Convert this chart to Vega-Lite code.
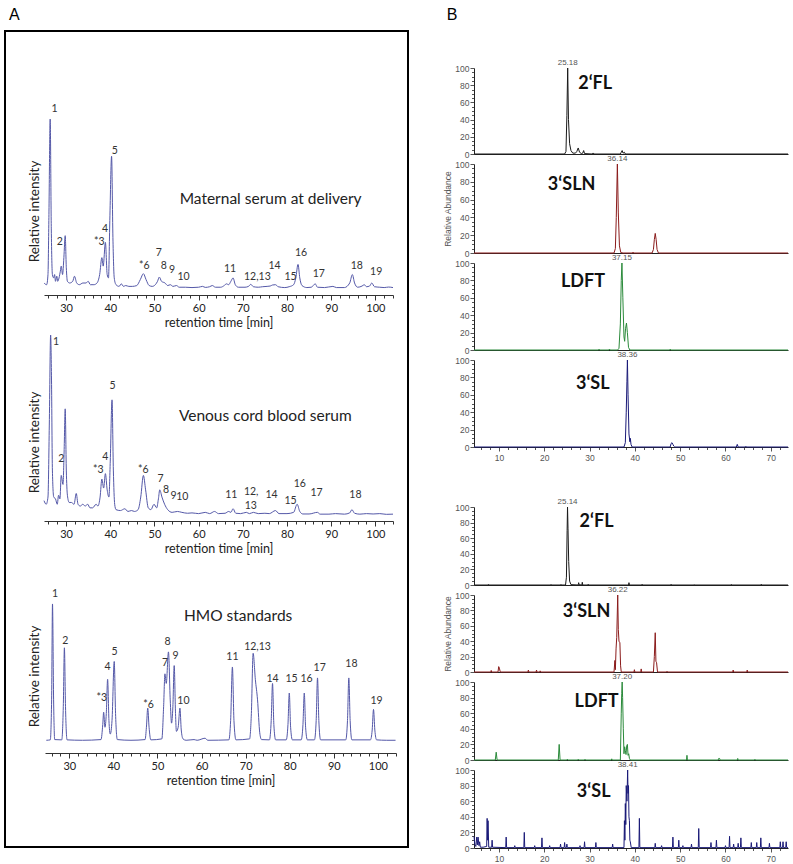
{
  "$schema": "https://vega.github.io/schema/vega-lite/v6.json",
  "background": "white",
  "padding": {"left": 4, "top": 6, "right": 0, "bottom": 0},
  "config": {"view": {"stroke": null}, "font": "Lato", "axis": {"grid": false, "labelOverlap": false, "format": "d"}},
  "datasets": {
    "a1": [{"t":25.0,"v":3},{"t":25.6,"v":2},{"t":25.9,"v":8},{"t":26.1,"v":40},{"t":26.4,"v":100},{"t":26.65,"v":35},{"t":26.9,"v":8},{"t":27.2,"v":6},{"t":27.4,"v":8},{"t":27.6,"v":4},{"t":27.9,"v":7},{"t":28.1,"v":4},{"t":28.4,"v":6},{"t":28.7,"v":10},{"t":28.9,"v":13},{"t":29.2,"v":8},{"t":29.5,"v":18},{"t":29.8,"v":31},{"t":30.05,"v":12},{"t":30.3,"v":4},{"t":30.8,"v":3},{"t":31.5,"v":4},{"t":31.9,"v":7},{"t":32.4,"v":3},{"t":33.0,"v":2},{"t":33.8,"v":3},{"t":34.5,"v":3},{"t":35.0,"v":4},{"t":35.5,"v":2},{"t":36.3,"v":2},{"t":37.0,"v":3},{"t":37.6,"v":8},{"t":38.1,"v":18},{"t":38.4,"v":13},{"t":38.9,"v":27},{"t":39.3,"v":8},{"t":39.6,"v":6},{"t":39.9,"v":40},{"t":40.3,"v":78},{"t":40.6,"v":30},{"t":40.9,"v":6},{"t":41.3,"v":2},{"t":42.0,"v":1},{"t":42.5,"v":2.5},{"t":43.0,"v":1},{"t":43.5,"v":1.5},{"t":44.2,"v":1},{"t":45.0,"v":1},{"t":46.0,"v":1.5},{"t":46.8,"v":5},{"t":47.5,"v":8.5},{"t":48.1,"v":5},{"t":48.8,"v":1.5},{"t":49.5,"v":1},{"t":50.2,"v":2},{"t":50.7,"v":4},{"t":51.1,"v":6.5},{"t":51.6,"v":4},{"t":52.4,"v":3},{"t":53.0,"v":1.5},{"t":53.6,"v":2},{"t":54.2,"v":1},{"t":55.0,"v":1.5},{"t":55.6,"v":0.5},{"t":57,"v":0.5},{"t":58.5,"v":0.3},{"t":60,"v":0.5},{"t":60.9,"v":1},{"t":61.5,"v":0.4},{"t":62.5,"v":0.8},{"t":63.1,"v":1.5},{"t":63.8,"v":0.5},{"t":65,"v":0.5},{"t":65.8,"v":1.5},{"t":66.3,"v":2.5},{"t":66.8,"v":2},{"t":67.3,"v":4},{"t":67.8,"v":6},{"t":68.3,"v":2},{"t":69,"v":0.5},{"t":70.5,"v":0.5},{"t":71.3,"v":1},{"t":71.8,"v":2.2},{"t":72.4,"v":0.8},{"t":73.5,"v":0.5},{"t":74.5,"v":0.8},{"t":75.5,"v":1},{"t":76.2,"v":1.2},{"t":76.7,"v":1.8},{"t":77.4,"v":2},{"t":78.0,"v":0.8},{"t":79.5,"v":0.3},{"t":80.5,"v":0.8},{"t":81.5,"v":2},{"t":82.0,"v":6},{"t":82.5,"v":14},{"t":82.9,"v":6},{"t":83.4,"v":1.5},{"t":84.5,"v":0.3},{"t":85.5,"v":0.5},{"t":86.4,"v":2.5},{"t":86.9,"v":0.5},{"t":88.5,"v":0.3},{"t":90.4,"v":1},{"t":91.2,"v":0.3},{"t":93,"v":0.3},{"t":94.2,"v":3},{"t":94.8,"v":8},{"t":95.3,"v":3},{"t":96,"v":0.5},{"t":97,"v":1.2},{"t":97.5,"v":2},{"t":98,"v":0.8},{"t":98.7,"v":1.2},{"t":99.2,"v":3},{"t":99.8,"v":0.8},{"t":101,"v":0.5},{"t":102,"v":0.3},{"t":103,"v":0.6},{"t":104,"v":0.3}],
    "a2": [{"t":25.0,"v":8},{"t":25.5,"v":6},{"t":25.9,"v":10},{"t":26.2,"v":50},{"t":26.5,"v":100},{"t":26.7,"v":75},{"t":26.9,"v":25},{"t":27.2,"v":10},{"t":27.6,"v":9},{"t":28.0,"v":6},{"t":28.3,"v":11},{"t":28.6,"v":9},{"t":28.9,"v":22},{"t":29.3,"v":17},{"t":29.55,"v":35},{"t":29.8,"v":59},{"t":30.05,"v":25},{"t":30.3,"v":11},{"t":30.7,"v":7},{"t":31.2,"v":7},{"t":31.8,"v":6},{"t":32.3,"v":12},{"t":32.7,"v":6},{"t":33.2,"v":5},{"t":33.8,"v":6},{"t":34.3,"v":5},{"t":34.9,"v":6},{"t":35.4,"v":4},{"t":36.0,"v":4},{"t":36.8,"v":6},{"t":37.2,"v":5},{"t":37.7,"v":10},{"t":38.1,"v":20},{"t":38.5,"v":15},{"t":38.9,"v":23},{"t":39.3,"v":14},{"t":39.7,"v":10},{"t":40.0,"v":30},{"t":40.4,"v":64},{"t":40.7,"v":25},{"t":41.0,"v":6},{"t":41.3,"v":3},{"t":42.3,"v":2.5},{"t":43.3,"v":3.5},{"t":44.0,"v":2},{"t":44.8,"v":2.5},{"t":45.5,"v":2},{"t":46.3,"v":3},{"t":46.9,"v":10},{"t":47.5,"v":22},{"t":48.0,"v":14},{"t":48.6,"v":4},{"t":49.2,"v":3},{"t":49.9,"v":6},{"t":50.5,"v":4},{"t":50.9,"v":9},{"t":51.2,"v":14},{"t":51.7,"v":10},{"t":52.3,"v":6},{"t":53.0,"v":3},{"t":54.0,"v":1.5},{"t":55.2,"v":2},{"t":56.2,"v":1.5},{"t":57.5,"v":1},{"t":58.5,"v":1.2},{"t":60,"v":0.8},{"t":61.5,"v":1.5},{"t":62.5,"v":0.8},{"t":63.6,"v":2},{"t":64.5,"v":0.8},{"t":66.0,"v":1},{"t":66.8,"v":2},{"t":67.3,"v":1.5},{"t":67.8,"v":3.5},{"t":68.4,"v":1},{"t":69.5,"v":0.8},{"t":70.8,"v":1.5},{"t":71.5,"v":0.8},{"t":72.4,"v":1.5},{"t":73.5,"v":0.8},{"t":75.0,"v":1},{"t":76.0,"v":0.8},{"t":77.4,"v":2.5},{"t":78.2,"v":0.8},{"t":80.0,"v":0.8},{"t":81.5,"v":1.5},{"t":82.3,"v":6},{"t":82.9,"v":2},{"t":83.6,"v":0.6},{"t":85,"v":0.6},{"t":86.9,"v":1.5},{"t":87.5,"v":0.5},{"t":89.5,"v":0.5},{"t":91,"v":0.8},{"t":93,"v":0.5},{"t":94.2,"v":1.2},{"t":94.7,"v":3},{"t":95.3,"v":1},{"t":96.5,"v":0.5},{"t":98,"v":0.8},{"t":99.5,"v":0.6},{"t":101,"v":0.8},{"t":102.5,"v":0.4},{"t":104,"v":0.5}],
    "a3": [{"t":24.8,"v":0.5},{"t":25.7,"v":0.8},{"t":26.0,"v":30},{"t":26.2,"v":100},{"t":26.45,"v":30},{"t":26.7,"v":1},{"t":28.3,"v":0.8},{"t":28.65,"v":25},{"t":28.9,"v":68},{"t":29.15,"v":25},{"t":29.5,"v":0.8},{"t":33,"v":0.5},{"t":37.2,"v":1},{"t":37.6,"v":12},{"t":37.8,"v":21},{"t":38.1,"v":10},{"t":38.4,"v":20},{"t":38.7,"v":45},{"t":39.0,"v":15},{"t":39.3,"v":5},{"t":39.7,"v":15},{"t":40.2,"v":58},{"t":40.5,"v":20},{"t":40.9,"v":1},{"t":44,"v":0.5},{"t":47.2,"v":1},{"t":47.5,"v":10},{"t":47.8,"v":24},{"t":48.1,"v":10},{"t":48.5,"v":0.8},{"t":51.0,"v":1.5},{"t":51.4,"v":25},{"t":51.7,"v":49},{"t":52.0,"v":42},{"t":52.5,"v":65},{"t":52.9,"v":30},{"t":53.2,"v":13},{"t":53.5,"v":25},{"t":53.8,"v":55},{"t":54.1,"v":20},{"t":54.3,"v":7},{"t":54.7,"v":10},{"t":55.1,"v":24},{"t":55.4,"v":8},{"t":55.8,"v":1.5},{"t":56.5,"v":0.5},{"t":58.3,"v":1},{"t":59,"v":0.5},{"t":60.8,"v":2},{"t":61.4,"v":0.5},{"t":66.2,"v":0.8},{"t":66.6,"v":15},{"t":67.0,"v":54},{"t":67.35,"v":15},{"t":67.8,"v":0.8},{"t":70.9,"v":1.5},{"t":71.3,"v":20},{"t":71.7,"v":64},{"t":72.2,"v":45},{"t":72.7,"v":30},{"t":73.2,"v":6},{"t":73.6,"v":1},{"t":75.4,"v":0.8},{"t":75.8,"v":15},{"t":76.1,"v":42},{"t":76.4,"v":12},{"t":76.8,"v":0.8},{"t":79.2,"v":0.8},{"t":79.6,"v":12},{"t":79.9,"v":35},{"t":80.2,"v":10},{"t":80.6,"v":0.8},{"t":82.6,"v":0.8},{"t":83.0,"v":12},{"t":83.3,"v":35},{"t":83.6,"v":10},{"t":84.0,"v":0.8},{"t":85.6,"v":0.8},{"t":86.0,"v":15},{"t":86.3,"v":46},{"t":86.6,"v":15},{"t":87.0,"v":0.8},{"t":92.7,"v":0.8},{"t":93.1,"v":15},{"t":93.4,"v":46},{"t":93.7,"v":15},{"t":94.1,"v":0.8},{"t":98.3,"v":0.8},{"t":98.7,"v":8},{"t":99.0,"v":23},{"t":99.3,"v":8},{"t":99.7,"v":0.8},{"t":102,"v":0.5},{"t":104,"v":0.5}],
    "a1l": [{"t":27.4,"v":106,"label":"1"},{"t":28.6,"v":27,"label":"2"},{"t":37.5,"v":27,"label":"*3"},{"t":38.8,"v":35,"label":"4"},{"t":41.0,"v":81,"label":"5"},{"t":47.7,"v":13,"label":"*6"},{"t":51.0,"v":21,"label":"7"},{"t":52.1,"v":13,"label":"8"},{"t":54.0,"v":10.5,"label":"9"},{"t":56.6,"v":6.3,"label":"10"},{"t":67.1,"v":11,"label":"11"},{"t":73.3,"v":6.5,"label":"12,13"},{"t":77.2,"v":13,"label":"14"},{"t":80.8,"v":6.5,"label":"15"},{"t":83.2,"v":21,"label":"16"},{"t":87.2,"v":8.5,"label":"17"},{"t":95.8,"v":13,"label":"18"},{"t":100.2,"v":9.5,"label":"19"}],
    "a2l": [{"t":27.7,"v":96,"label":"1"},{"t":28.9,"v":31,"label":"2"},{"t":37.3,"v":25,"label":"*3"},{"t":38.9,"v":32,"label":"4"},{"t":40.5,"v":71.5,"label":"5"},{"t":47.5,"v":25,"label":"*6"},{"t":51.4,"v":20,"label":"7"},{"t":52.6,"v":14,"label":"8"},{"t":54.3,"v":10.5,"label":"9"},{"t":56.3,"v":10,"label":"10"},{"t":67.4,"v":11,"label":"11"},{"t":71.9,"v":13,"label":"12,"},{"t":71.8,"v":5,"label":"13"},{"t":76.5,"v":11,"label":"14"},{"t":80.8,"v":8,"label":"15"},{"t":82.9,"v":17,"label":"16"},{"t":86.7,"v":12,"label":"17"},{"t":95.5,"v":11,"label":"18"}],
    "a3l": [{"t":26.8,"v":107.5,"label":"1"},{"t":29.1,"v":73,"label":"2"},{"t":37.4,"v":31,"label":"*3"},{"t":38.7,"v":54,"label":"4"},{"t":40.3,"v":65,"label":"5"},{"t":48.0,"v":26.5,"label":"*6"},{"t":51.7,"v":57,"label":"7"},{"t":52.3,"v":72,"label":"8"},{"t":54.1,"v":62,"label":"9"},{"t":55.9,"v":29,"label":"10"},{"t":67.0,"v":61,"label":"11"},{"t":72.7,"v":68.6,"label":"12,13"},{"t":76.1,"v":45.5,"label":"14"},{"t":80.4,"v":45,"label":"15"},{"t":83.8,"v":45,"label":"16"},{"t":86.8,"v":53,"label":"17"},{"t":94.0,"v":56,"label":"18"},{"t":99.7,"v":29,"label":"19"}],
    "b1": [{"t":4.5,"v":0},{"t":24.5,"v":0},{"t":24.8,"v":3},{"t":25.0,"v":45},{"t":25.18,"v":100},{"t":25.35,"v":40},{"t":25.6,"v":12},{"t":25.9,"v":4},{"t":26.3,"v":1},{"t":26.9,"v":1},{"t":27.2,"v":3},{"t":27.5,"v":7},{"t":27.8,"v":2},{"t":28.2,"v":0.5},{"t":28.5,"v":1},{"t":28.7,"v":4},{"t":28.9,"v":0.5},{"t":30.6,"v":0},{"t":30.8,"v":1.2},{"t":31.0,"v":0},{"t":36.8,"v":0},{"t":37.0,"v":2},{"t":37.2,"v":4},{"t":37.4,"v":1},{"t":37.7,"v":2},{"t":37.9,"v":0},{"t":73.8,"v":0}],
    "b2": [{"t":4.5,"v":0},{"t":35.4,"v":0},{"t":35.7,"v":5},{"t":35.9,"v":40},{"t":36.14,"v":100},{"t":36.35,"v":45},{"t":36.6,"v":8},{"t":36.9,"v":0.5},{"t":37.4,"v":0},{"t":39.5,"v":0},{"t":39.6,"v":1},{"t":39.7,"v":0},{"t":43.8,"v":0},{"t":44.1,"v":4},{"t":44.3,"v":15},{"t":44.5,"v":22},{"t":44.7,"v":15},{"t":44.9,"v":4},{"t":45.2,"v":0},{"t":73.8,"v":0}],
    "b3": [{"t":4.5,"v":0},{"t":32.0,"v":0},{"t":32.1,"v":1},{"t":32.2,"v":0},{"t":34.3,"v":0},{"t":34.4,"v":1},{"t":34.5,"v":0},{"t":36.2,"v":0},{"t":36.5,"v":2},{"t":36.8,"v":30},{"t":37.0,"v":80},{"t":37.15,"v":100},{"t":37.35,"v":60},{"t":37.6,"v":15},{"t":37.75,"v":10},{"t":37.95,"v":25},{"t":38.15,"v":31},{"t":38.35,"v":20},{"t":38.6,"v":3},{"t":38.9,"v":0},{"t":47.7,"v":0},{"t":47.8,"v":1},{"t":47.9,"v":0},{"t":73.8,"v":0}],
    "b4": [{"t":4.5,"v":0},{"t":37.6,"v":0},{"t":37.9,"v":5},{"t":38.1,"v":40},{"t":38.25,"v":75},{"t":38.36,"v":100},{"t":38.5,"v":60},{"t":38.7,"v":15},{"t":38.9,"v":6},{"t":39.0,"v":10},{"t":39.15,"v":3},{"t":39.4,"v":0},{"t":47.8,"v":0},{"t":48.0,"v":4},{"t":48.2,"v":5},{"t":48.4,"v":3},{"t":48.6,"v":1},{"t":48.8,"v":0},{"t":62.4,"v":0},{"t":62.6,"v":3},{"t":62.8,"v":0},{"t":64.4,"v":0},{"t":64.5,"v":0.8},{"t":64.6,"v":0},{"t":73.8,"v":0}],
    "b5": [{"t":4.5,"v":0},{"t":7.6,"v":0},{"t":7.7,"v":0.8},{"t":7.8,"v":0},{"t":21.4,"v":0},{"t":21.5,"v":0.8},{"t":21.6,"v":0},{"t":23.6,"v":0},{"t":23.7,"v":0.8},{"t":23.8,"v":0},{"t":24.7,"v":0},{"t":24.9,"v":10},{"t":25.05,"v":70},{"t":25.14,"v":100},{"t":25.25,"v":72},{"t":25.4,"v":30},{"t":25.6,"v":5},{"t":25.9,"v":0.5},{"t":27.5,"v":0},{"t":27.6,"v":3},{"t":27.7,"v":0.5},{"t":28.3,"v":0},{"t":28.4,"v":3.5},{"t":28.5,"v":0},{"t":29.6,"v":0},{"t":29.7,"v":1},{"t":29.8,"v":0},{"t":38.6,"v":0},{"t":38.7,"v":3},{"t":38.8,"v":0},{"t":41.5,"v":0},{"t":41.6,"v":1},{"t":41.7,"v":0},{"t":47.9,"v":0},{"t":48.0,"v":1},{"t":48.1,"v":0},{"t":53,"v":0},{"t":53.1,"v":0.6},{"t":53.2,"v":0},{"t":61.2,"v":0},{"t":61.3,"v":0.8},{"t":61.4,"v":0},{"t":67.8,"v":0},{"t":67.9,"v":1},{"t":68.0,"v":0},{"t":73.8,"v":0}],
    "b6": [{"t":4.5,"v":0},{"t":8.2,"v":0},{"t":8.3,"v":2},{"t":8.4,"v":0},{"t":9.8,"v":0},{"t":9.95,"v":7},{"t":10.1,"v":5},{"t":10.3,"v":0},{"t":16.4,"v":0},{"t":16.5,"v":2.5},{"t":16.6,"v":0},{"t":18.2,"v":0},{"t":18.3,"v":2.5},{"t":18.4,"v":0},{"t":19.0,"v":0},{"t":19.1,"v":1.5},{"t":19.2,"v":0},{"t":35.4,"v":0},{"t":35.6,"v":15},{"t":35.7,"v":3},{"t":35.85,"v":30},{"t":36.0,"v":45},{"t":36.22,"v":100},{"t":36.35,"v":55},{"t":36.5,"v":40},{"t":36.7,"v":38},{"t":36.85,"v":8},{"t":37.0,"v":0},{"t":39.8,"v":0},{"t":39.9,"v":3},{"t":40.0,"v":0},{"t":41.3,"v":0},{"t":41.4,"v":4},{"t":41.5,"v":0},{"t":44.1,"v":0},{"t":44.3,"v":20},{"t":44.5,"v":51},{"t":44.65,"v":14},{"t":44.8,"v":12},{"t":45.0,"v":0},{"t":47.0,"v":0},{"t":47.1,"v":1},{"t":47.2,"v":0},{"t":61.6,"v":0},{"t":61.7,"v":2.5},{"t":61.8,"v":0},{"t":64.7,"v":0},{"t":64.8,"v":2.5},{"t":64.9,"v":0},{"t":73.8,"v":0}],
    "b7": [{"t":4.5,"v":0},{"t":9.2,"v":0},{"t":9.4,"v":10},{"t":9.6,"v":0},{"t":23.1,"v":0},{"t":23.3,"v":20},{"t":23.5,"v":0},{"t":25.0,"v":0},{"t":25.1,"v":1},{"t":25.2,"v":0},{"t":27.4,"v":0},{"t":27.5,"v":1},{"t":27.6,"v":0},{"t":28.9,"v":0},{"t":29.0,"v":1},{"t":29.1,"v":0},{"t":34.8,"v":0},{"t":34.9,"v":1.5},{"t":35.0,"v":0},{"t":36.8,"v":0},{"t":37.0,"v":60},{"t":37.1,"v":85},{"t":37.2,"v":100},{"t":37.3,"v":80},{"t":37.45,"v":40},{"t":37.6,"v":8},{"t":37.75,"v":17},{"t":37.9,"v":12},{"t":38.05,"v":7},{"t":38.2,"v":18},{"t":38.35,"v":20},{"t":38.5,"v":6},{"t":38.65,"v":8},{"t":38.8,"v":2},{"t":39.0,"v":0},{"t":51.4,"v":0},{"t":51.5,"v":6},{"t":51.6,"v":0},{"t":58.4,"v":0},{"t":58.5,"v":2},{"t":58.7,"v":2},{"t":58.8,"v":0},{"t":62.6,"v":0},{"t":62.7,"v":2},{"t":62.8,"v":0},{"t":66.4,"v":0},{"t":66.5,"v":1},{"t":66.6,"v":0},{"t":73.8,"v":0}],
    "b8": [{"t":4.5,"v":15},{"t":4.7,"v":4},{"t":4.9,"v":2},{"t":5.1,"v":14},{"t":5.25,"v":4},{"t":5.4,"v":14},{"t":5.6,"v":3},{"t":5.75,"v":8},{"t":5.9,"v":1},{"t":6.5,"v":1},{"t":7.3,"v":2},{"t":7.4,"v":38},{"t":7.5,"v":10},{"t":7.6,"v":35},{"t":7.75,"v":1},{"t":8.4,"v":1},{"t":8.5,"v":10},{"t":8.6,"v":1},{"t":11.5,"v":0.5},{"t":11.6,"v":14},{"t":11.7,"v":0.5},{"t":13.4,"v":0.5},{"t":13.5,"v":3},{"t":13.6,"v":0.5},{"t":15.5,"v":0.5},{"t":15.6,"v":20},{"t":15.7,"v":0.5},{"t":17.8,"v":0.5},{"t":17.9,"v":3},{"t":18.0,"v":0.5},{"t":19.4,"v":0.5},{"t":19.5,"v":13},{"t":19.6,"v":0.5},{"t":21.1,"v":0.5},{"t":21.2,"v":3},{"t":21.3,"v":0.5},{"t":23.5,"v":0.5},{"t":23.6,"v":5},{"t":23.7,"v":0.5},{"t":24.4,"v":0.5},{"t":24.5,"v":7},{"t":24.6,"v":0.5},{"t":24.9,"v":0.5},{"t":25.0,"v":5},{"t":25.1,"v":0.5},{"t":27.8,"v":0.5},{"t":27.9,"v":3},{"t":28.0,"v":0.5},{"t":28.8,"v":0.5},{"t":28.9,"v":8},{"t":29.0,"v":0.5},{"t":31.3,"v":0.5},{"t":31.4,"v":7},{"t":31.5,"v":0.5},{"t":35.0,"v":0.5},{"t":35.1,"v":5},{"t":35.2,"v":0.5},{"t":37.6,"v":0.5},{"t":37.7,"v":35},{"t":37.8,"v":10},{"t":37.9,"v":57},{"t":38.0,"v":30},{"t":38.1,"v":80},{"t":38.25,"v":60},{"t":38.41,"v":100},{"t":38.5,"v":70},{"t":38.6,"v":80},{"t":38.7,"v":40},{"t":38.8,"v":35},{"t":38.9,"v":10},{"t":39.0,"v":8},{"t":39.2,"v":0.5},{"t":40.9,"v":0.5},{"t":41.0,"v":38},{"t":41.1,"v":0.5},{"t":44.4,"v":0.5},{"t":44.5,"v":6},{"t":44.6,"v":0.5},{"t":45.8,"v":0.5},{"t":45.9,"v":3},{"t":46.0,"v":0.5},{"t":48.3,"v":0.5},{"t":48.4,"v":14},{"t":48.5,"v":0.5},{"t":49.6,"v":0.5},{"t":49.7,"v":10},{"t":49.8,"v":0.5},{"t":50.5,"v":0.5},{"t":50.6,"v":3},{"t":50.7,"v":0.5},{"t":52.4,"v":0.5},{"t":52.5,"v":5},{"t":52.6,"v":0.5},{"t":54.0,"v":0.5},{"t":54.1,"v":25},{"t":54.2,"v":0.5},{"t":56.7,"v":0.5},{"t":56.8,"v":7},{"t":56.9,"v":0.5},{"t":57.9,"v":0.5},{"t":58.0,"v":10},{"t":58.1,"v":0.5},{"t":59.9,"v":0.5},{"t":60.0,"v":3},{"t":60.1,"v":0.5},{"t":60.8,"v":0.5},{"t":60.9,"v":15},{"t":61.0,"v":0.5},{"t":61.7,"v":0.5},{"t":61.8,"v":5},{"t":61.9,"v":0.5},{"t":62.7,"v":0.5},{"t":62.8,"v":6},{"t":62.9,"v":0.5},{"t":63.3,"v":0.5},{"t":63.4,"v":13},{"t":63.5,"v":0.5},{"t":65.6,"v":0.5},{"t":65.7,"v":7},{"t":65.8,"v":0.5},{"t":66.8,"v":0.5},{"t":66.9,"v":7},{"t":67.0,"v":0.5},{"t":67.7,"v":0.5},{"t":67.8,"v":13},{"t":67.9,"v":0.5},{"t":69.6,"v":0.5},{"t":69.7,"v":6},{"t":69.8,"v":0.5},{"t":72.0,"v":0.5},{"t":72.1,"v":8},{"t":72.2,"v":0.5},{"t":72.6,"v":0.5},{"t":72.7,"v":8},{"t":72.8,"v":0.5},{"t":73.3,"v":0.5},{"t":73.4,"v":8},{"t":73.5,"v":0.5},{"t":73.8,"v":0.5}]
  },
  "spacing": 34,
  "hconcat": [
    {
      "width": 403,
      "height": 816,
      "view": {"stroke": "#000000", "strokeWidth": 2},
      "title": {"text": "A", "anchor": "start", "fontSize": 16, "fontWeight": "normal", "font": "Liberation Sans", "offset": 8, "dx": 4},
      "resolve": {"scale": {"x": "independent", "y": "independent"}, "axis": {"x": "independent", "y": "independent"}},
      "layer": [
        {
          "layer": [
            {"data": {"name": "a1"}, "mark": {"type": "line", "interpolate": "monotone", "color": "#5458a8", "strokeWidth": 1},
             "encoding": {
               "x": {"field": "t", "type": "quantitative", "scale": {"domain": [25, 104], "range": [39, 388], "nice": false, "zero": false},
                     "axis": {"orient": "bottom", "offset": -552, "values": [26,28,30,32,34,36,38,40,42,44,46,48,50,52,54,56,58,60,62,64,66,68,70,72,74,76,78,80,82,84,86,88,90,92,94,96,98,100,102,104], "tickCount": 500, "format": "d", "labelExpr": "datum.value % 10 === 0 ? datum.label : ''", "labelOverlap": false, "tickSize": {"condition": {"test": "datum.value % 10 === 0", "value": 5}, "value": 3}, "title": "retention time [min]", "titleFontSize": 12.5, "titleFontWeight": "normal", "titleColor": "#222", "titlePadding": 3, "labelFontSize": 11, "labelColor": "#222", "labelPadding": 2, "domainColor": "#333", "tickColor": "#333", "labelFlush": false}},
               "y": {"field": "v", "type": "quantitative", "scale": {"domain": [-330.7, 152.1], "nice": false, "zero": false},
                     "axis": {"orient": "left", "domain": false, "ticks": false, "labels": false, "title": "Relative intensity", "titleX": 29, "titleY": 180, "titleAngle": -90, "titleAlign": "center", "titleBaseline": "middle", "titleFontSize": 13.5, "titleFontWeight": "normal", "titleColor": "#222"}}
             }},
            {"data": {"name": "a1l"}, "mark": {"type": "text", "fontSize": 10.5, "color": "#333"},
             "encoding": {"x": {"field": "t", "type": "quantitative"}, "y": {"field": "v", "type": "quantitative"}, "text": {"field": "label"}}},
            {"data": {"values": [{"t": 76.3, "v": 52.5, "label": "Maternal serum at delivery"}]}, "mark": {"type": "text", "fontSize": 15.5, "color": "#222"},
             "encoding": {"x": {"field": "t", "type": "quantitative"}, "y": {"field": "v", "type": "quantitative"}, "text": {"field": "label"}}}
          ]
        },
        {
          "layer": [
            {"data": {"name": "a2"}, "mark": {"type": "line", "interpolate": "monotone", "color": "#5458a8", "strokeWidth": 1},
             "encoding": {
               "x": {"field": "t", "type": "quantitative", "scale": {"domain": [25, 104], "range": [39, 388], "nice": false, "zero": false},
                     "axis": {"orient": "bottom", "offset": -326, "values": [26,28,30,32,34,36,38,40,42,44,46,48,50,52,54,56,58,60,62,64,66,68,70,72,74,76,78,80,82,84,86,88,90,92,94,96,98,100,102,104], "tickCount": 500, "format": "d", "labelExpr": "datum.value % 10 === 0 ? datum.label : ''", "labelOverlap": false, "tickSize": {"condition": {"test": "datum.value % 10 === 0", "value": 5}, "value": 3}, "title": "retention time [min]", "titleFontSize": 12.5, "titleFontWeight": "normal", "titleColor": "#222", "titlePadding": 3, "labelFontSize": 11, "labelColor": "#222", "labelPadding": 2, "domainColor": "#333", "tickColor": "#333", "labelFlush": false}},
               "y": {"field": "v", "type": "quantitative", "scale": {"domain": [-184.4, 268.9], "nice": false, "zero": false},
                     "axis": {"orient": "left", "domain": false, "ticks": false, "labels": false, "title": "Relative intensity", "titleX": 29, "titleY": 411, "titleAngle": -90, "titleAlign": "center", "titleBaseline": "middle", "titleFontSize": 13.5, "titleFontWeight": "normal", "titleColor": "#222"}}
             }},
            {"data": {"name": "a2l"}, "mark": {"type": "text", "fontSize": 10.5, "color": "#333"},
             "encoding": {"x": {"field": "t", "type": "quantitative"}, "y": {"field": "v", "type": "quantitative"}, "text": {"field": "label"}}},
            {"data": {"values": [{"t": 75.1, "v": 55, "label": "Venous cord blood serum"}]}, "mark": {"type": "text", "fontSize": 15.5, "color": "#222"},
             "encoding": {"x": {"field": "t", "type": "quantitative"}, "y": {"field": "v", "type": "quantitative"}, "text": {"field": "label"}}}
          ]
        },
        {
          "layer": [
            {"data": {"name": "a3"}, "mark": {"type": "line", "interpolate": "monotone", "color": "#5458a8", "strokeWidth": 1},
             "encoding": {
               "x": {"field": "t", "type": "quantitative", "scale": {"domain": [24.5, 104.1], "range": [40, 391], "nice": false, "zero": false},
                     "axis": {"orient": "bottom", "offset": -94, "values": [26,28,30,32,34,36,38,40,42,44,46,48,50,52,54,56,58,60,62,64,66,68,70,72,74,76,78,80,82,84,86,88,90,92,94,96,98,100,102,104], "tickCount": 500, "format": "d", "labelExpr": "datum.value % 10 === 0 ? datum.label : ''", "labelOverlap": false, "tickSize": {"condition": {"test": "datum.value % 10 === 0", "value": 5}, "value": 3}, "title": "retention time [min]", "titleFontSize": 12.5, "titleFontWeight": "normal", "titleColor": "#222", "titlePadding": 3, "labelFontSize": 11, "labelColor": "#222", "labelPadding": 2, "domainColor": "#333", "tickColor": "#333", "labelFlush": false}},
               "y": {"field": "v", "type": "quantitative", "scale": {"domain": [-77.4, 518.2], "nice": false, "zero": false},
                     "axis": {"orient": "left", "domain": false, "ticks": false, "labels": false, "title": "Relative intensity", "titleX": 29, "titleY": 645, "titleAngle": -90, "titleAlign": "center", "titleBaseline": "middle", "titleFontSize": 13.5, "titleFontWeight": "normal", "titleColor": "#222"}}
             }},
            {"data": {"name": "a3l"}, "mark": {"type": "text", "fontSize": 10.5, "color": "#333"},
             "encoding": {"x": {"field": "t", "type": "quantitative"}, "y": {"field": "v", "type": "quantitative"}, "text": {"field": "label"}}},
            {"data": {"values": [{"t": 68.3, "v": 91, "label": "HMO standards"}]}, "mark": {"type": "text", "fontSize": 15.5, "color": "#222"},
             "encoding": {"x": {"field": "t", "type": "quantitative"}, "y": {"field": "v", "type": "quantitative"}, "text": {"field": "label"}}}
          ]
        }
      ]
    },
    {
      "title": {"text": "B", "anchor": "start", "fontSize": 16, "fontWeight": "normal", "font": "Liberation Sans", "offset": 8, "dx": 3},
      "bounds": "flush",
      "spacing": 10,
      "vconcat": [
        {"width": 314, "height": 27, "data": {"values": []}, "mark": "point", "encoding": {}},
        {"width": 314, "height": 86, "layer": [
          {"data": {"name": "b1"}, "mark": {"type": "line", "color": "#1a1a1a", "strokeWidth": 1},
           "encoding": {"x": {"field": "t", "type": "quantitative", "scale": {"domain": [4.5, 73.8], "nice": false, "zero": false}, "axis": {"labels": false, "ticks": false, "title": null, "domainColor": "#222"}},
                        "y": {"field": "v", "type": "quantitative", "scale": {"domain": [0, 100], "nice": false}, "axis": {"values": [0,5,10,15,20,25,30,35,40,45,50,55,60,65,70,75,80,85,90,95,100], "tickCount": 500, "format": "d", "labelExpr": "datum.value % 20 === 0 ? datum.label : ''", "labelOverlap": false, "tickSize": {"condition": {"test": "datum.value % 20 === 0", "value": 4}, "value": 2.5}, "title": null, "labelFontSize": 8.5, "labelFont": "Liberation Sans", "labelColor": "#555", "labelPadding": 1, "tickColor": "#555", "domainColor": "#222"}}}},
          {"data": {"values": [{"t": 25.18, "v": 100, "label": "25.18"}]}, "mark": {"type": "text", "fontSize": 8, "font": "Liberation Sans", "color": "#555", "baseline": "bottom", "dy": -1},
           "encoding": {"x": {"field": "t", "type": "quantitative"}, "y": {"field": "v", "type": "quantitative"}, "text": {"field": "label"}}},
          {"data": {"values": [{"t": 27.5, "v": 81, "label": "2\u2018FL"}]}, "mark": {"type": "text", "fontSize": 18, "fontWeight": "bold", "align": "left", "baseline": "middle", "color": "#111"},
           "encoding": {"x": {"field": "t", "type": "quantitative"}, "y": {"field": "v", "type": "quantitative"}, "text": {"field": "label"}}}
        ]},
        {"width": 314, "height": 89, "layer": [
          {"data": {"name": "b2"}, "mark": {"type": "line", "color": "#8b1c1c", "strokeWidth": 1},
           "encoding": {"x": {"field": "t", "type": "quantitative", "scale": {"domain": [4.5, 73.8], "nice": false, "zero": false}, "axis": {"labels": false, "ticks": false, "title": null, "domainColor": "#222"}},
                        "y": {"field": "v", "type": "quantitative", "scale": {"domain": [0, 100], "nice": false}, "axis": {"values": [0,5,10,15,20,25,30,35,40,45,50,55,60,65,70,75,80,85,90,95,100], "tickCount": 500, "format": "d", "labelExpr": "datum.value % 20 === 0 ? datum.label : ''", "labelOverlap": false, "tickSize": {"condition": {"test": "datum.value % 20 === 0", "value": 4}, "value": 2.5}, "title": "Relative Abundance", "titleFontSize": 8.5, "titleFont": "Liberation Sans", "titleFontWeight": "normal", "titleColor": "#555", "titlePadding": 2, "labelFontSize": 8.5, "labelFont": "Liberation Sans", "labelColor": "#555", "labelPadding": 1, "tickColor": "#555", "domainColor": "#222"}}}},
          {"data": {"values": [{"t": 36.14, "v": 100, "label": "36.14"}]}, "mark": {"type": "text", "fontSize": 8, "font": "Liberation Sans", "color": "#555", "baseline": "bottom", "dy": -1},
           "encoding": {"x": {"field": "t", "type": "quantitative"}, "y": {"field": "v", "type": "quantitative"}, "text": {"field": "label"}}},
          {"data": {"values": [{"t": 20.8, "v": 76, "label": "3\u2018SLN"}]}, "mark": {"type": "text", "fontSize": 18, "fontWeight": "bold", "align": "left", "baseline": "middle", "color": "#111"},
           "encoding": {"x": {"field": "t", "type": "quantitative"}, "y": {"field": "v", "type": "quantitative"}, "text": {"field": "label"}}}
        ]},
        {"width": 314, "height": 87, "layer": [
          {"data": {"name": "b3"}, "mark": {"type": "line", "color": "#2a8a3a", "strokeWidth": 1},
           "encoding": {"x": {"field": "t", "type": "quantitative", "scale": {"domain": [4.5, 73.8], "nice": false, "zero": false}, "axis": {"labels": false, "ticks": false, "title": null, "domainColor": "#222"}},
                        "y": {"field": "v", "type": "quantitative", "scale": {"domain": [0, 100], "nice": false}, "axis": {"values": [0,5,10,15,20,25,30,35,40,45,50,55,60,65,70,75,80,85,90,95,100], "tickCount": 500, "format": "d", "labelExpr": "datum.value % 20 === 0 ? datum.label : ''", "labelOverlap": false, "tickSize": {"condition": {"test": "datum.value % 20 === 0", "value": 4}, "value": 2.5}, "title": null, "labelFontSize": 8.5, "labelFont": "Liberation Sans", "labelColor": "#555", "labelPadding": 1, "tickColor": "#555", "domainColor": "#222"}}}},
          {"data": {"values": [{"t": 37.15, "v": 100, "label": "37.15"}]}, "mark": {"type": "text", "fontSize": 8, "font": "Liberation Sans", "color": "#555", "baseline": "bottom", "dy": -1},
           "encoding": {"x": {"field": "t", "type": "quantitative"}, "y": {"field": "v", "type": "quantitative"}, "text": {"field": "label"}}},
          {"data": {"values": [{"t": 23.7, "v": 78, "label": "LDFT"}]}, "mark": {"type": "text", "fontSize": 18, "fontWeight": "bold", "align": "left", "baseline": "middle", "color": "#111"},
           "encoding": {"x": {"field": "t", "type": "quantitative"}, "y": {"field": "v", "type": "quantitative"}, "text": {"field": "label"}}}
        ]},
        {"width": 314, "height": 87, "layer": [
          {"data": {"name": "b4"}, "mark": {"type": "line", "color": "#1a1a78", "strokeWidth": 1},
           "encoding": {"x": {"field": "t", "type": "quantitative", "scale": {"domain": [4.5, 73.8], "nice": false, "zero": false}, "axis": {"values": [6,8,10,12,14,16,18,20,22,24,26,28,30,32,34,36,38,40,42,44,46,48,50,52,54,56,58,60,62,64,66,68,70,72], "tickCount": 500, "format": "d", "labelExpr": "datum.value % 10 === 0 ? datum.label : ''", "labelOverlap": false, "tickSize": {"condition": {"test": "datum.value % 10 === 0", "value": 4}, "value": 2.5}, "title": null, "labelFontSize": 8.5, "labelFont": "Liberation Sans", "labelColor": "#555", "labelPadding": 2, "tickColor": "#555", "domainColor": "#222", "labelFlush": false}},
                        "y": {"field": "v", "type": "quantitative", "scale": {"domain": [0, 100], "nice": false}, "axis": {"values": [0,5,10,15,20,25,30,35,40,45,50,55,60,65,70,75,80,85,90,95,100], "tickCount": 500, "format": "d", "labelExpr": "datum.value % 20 === 0 ? datum.label : ''", "labelOverlap": false, "tickSize": {"condition": {"test": "datum.value % 20 === 0", "value": 4}, "value": 2.5}, "title": null, "labelFontSize": 8.5, "labelFont": "Liberation Sans", "labelColor": "#555", "labelPadding": 1, "tickColor": "#555", "domainColor": "#222"}}}},
          {"data": {"values": [{"t": 38.36, "v": 100, "label": "38.36"}]}, "mark": {"type": "text", "fontSize": 8, "font": "Liberation Sans", "color": "#555", "baseline": "bottom", "dy": -1},
           "encoding": {"x": {"field": "t", "type": "quantitative"}, "y": {"field": "v", "type": "quantitative"}, "text": {"field": "label"}}},
          {"data": {"values": [{"t": 27.0, "v": 72, "label": "3\u2018SL"}]}, "mark": {"type": "text", "fontSize": 18, "fontWeight": "bold", "align": "left", "baseline": "middle", "color": "#111"},
           "encoding": {"x": {"field": "t", "type": "quantitative"}, "y": {"field": "v", "type": "quantitative"}, "text": {"field": "label"}}}
        ]},
        {"width": 314, "height": 40, "data": {"values": []}, "mark": "point", "encoding": {}},
        {"width": 314, "height": 78, "layer": [
          {"data": {"name": "b5"}, "mark": {"type": "line", "color": "#1a1a1a", "strokeWidth": 1},
           "encoding": {"x": {"field": "t", "type": "quantitative", "scale": {"domain": [4.5, 73.8], "nice": false, "zero": false}, "axis": {"labels": false, "ticks": false, "title": null, "domainColor": "#222"}},
                        "y": {"field": "v", "type": "quantitative", "scale": {"domain": [0, 100], "nice": false}, "axis": {"values": [0,5,10,15,20,25,30,35,40,45,50,55,60,65,70,75,80,85,90,95,100], "tickCount": 500, "format": "d", "labelExpr": "datum.value % 20 === 0 ? datum.label : ''", "labelOverlap": false, "tickSize": {"condition": {"test": "datum.value % 20 === 0", "value": 4}, "value": 2.5}, "title": null, "labelFontSize": 8.5, "labelFont": "Liberation Sans", "labelColor": "#555", "labelPadding": 1, "tickColor": "#555", "domainColor": "#222"}}}},
          {"data": {"values": [{"t": 25.14, "v": 100, "label": "25.14"}]}, "mark": {"type": "text", "fontSize": 8, "font": "Liberation Sans", "color": "#555", "baseline": "bottom", "dy": -1},
           "encoding": {"x": {"field": "t", "type": "quantitative"}, "y": {"field": "v", "type": "quantitative"}, "text": {"field": "label"}}},
          {"data": {"values": [{"t": 27.8, "v": 81, "label": "2\u2018FL"}]}, "mark": {"type": "text", "fontSize": 18, "fontWeight": "bold", "align": "left", "baseline": "middle", "color": "#111"},
           "encoding": {"x": {"field": "t", "type": "quantitative"}, "y": {"field": "v", "type": "quantitative"}, "text": {"field": "label"}}}
        ]},
        {"width": 314, "height": 77, "layer": [
          {"data": {"name": "b6"}, "mark": {"type": "line", "color": "#8b1c1c", "strokeWidth": 1},
           "encoding": {"x": {"field": "t", "type": "quantitative", "scale": {"domain": [4.5, 73.8], "nice": false, "zero": false}, "axis": {"labels": false, "ticks": false, "title": null, "domainColor": "#222"}},
                        "y": {"field": "v", "type": "quantitative", "scale": {"domain": [0, 100], "nice": false}, "axis": {"values": [0,5,10,15,20,25,30,35,40,45,50,55,60,65,70,75,80,85,90,95,100], "tickCount": 500, "format": "d", "labelExpr": "datum.value % 20 === 0 ? datum.label : ''", "labelOverlap": false, "tickSize": {"condition": {"test": "datum.value % 20 === 0", "value": 4}, "value": 2.5}, "title": "Relative Abundance", "titleFontSize": 8.5, "titleFont": "Liberation Sans", "titleFontWeight": "normal", "titleColor": "#555", "titlePadding": 2, "labelFontSize": 8.5, "labelFont": "Liberation Sans", "labelColor": "#555", "labelPadding": 1, "tickColor": "#555", "domainColor": "#222"}}}},
          {"data": {"values": [{"t": 36.22, "v": 100, "label": "36.22"}]}, "mark": {"type": "text", "fontSize": 8, "font": "Liberation Sans", "color": "#555", "baseline": "bottom", "dy": -1},
           "encoding": {"x": {"field": "t", "type": "quantitative"}, "y": {"field": "v", "type": "quantitative"}, "text": {"field": "label"}}},
          {"data": {"values": [{"t": 24.1, "v": 78, "label": "3\u2018SLN"}]}, "mark": {"type": "text", "fontSize": 18, "fontWeight": "bold", "align": "left", "baseline": "middle", "color": "#111"},
           "encoding": {"x": {"field": "t", "type": "quantitative"}, "y": {"field": "v", "type": "quantitative"}, "text": {"field": "label"}}}
        ]},
        {"width": 314, "height": 78, "layer": [
          {"data": {"name": "b7"}, "mark": {"type": "line", "color": "#2a8a3a", "strokeWidth": 1},
           "encoding": {"x": {"field": "t", "type": "quantitative", "scale": {"domain": [4.5, 73.8], "nice": false, "zero": false}, "axis": {"labels": false, "ticks": false, "title": null, "domainColor": "#222"}},
                        "y": {"field": "v", "type": "quantitative", "scale": {"domain": [0, 100], "nice": false}, "axis": {"values": [0,5,10,15,20,25,30,35,40,45,50,55,60,65,70,75,80,85,90,95,100], "tickCount": 500, "format": "d", "labelExpr": "datum.value % 20 === 0 ? datum.label : ''", "labelOverlap": false, "tickSize": {"condition": {"test": "datum.value % 20 === 0", "value": 4}, "value": 2.5}, "title": null, "labelFontSize": 8.5, "labelFont": "Liberation Sans", "labelColor": "#555", "labelPadding": 1, "tickColor": "#555", "domainColor": "#222"}}}},
          {"data": {"values": [{"t": 37.2, "v": 100, "label": "37.20"}]}, "mark": {"type": "text", "fontSize": 8, "font": "Liberation Sans", "color": "#555", "baseline": "bottom", "dy": -1},
           "encoding": {"x": {"field": "t", "type": "quantitative"}, "y": {"field": "v", "type": "quantitative"}, "text": {"field": "label"}}},
          {"data": {"values": [{"t": 26.7, "v": 74, "label": "LDFT"}]}, "mark": {"type": "text", "fontSize": 18, "fontWeight": "bold", "align": "left", "baseline": "middle", "color": "#111"},
           "encoding": {"x": {"field": "t", "type": "quantitative"}, "y": {"field": "v", "type": "quantitative"}, "text": {"field": "label"}}}
        ]},
        {"width": 314, "height": 78, "layer": [
          {"data": {"name": "b8"}, "mark": {"type": "line", "color": "#1a1a78", "strokeWidth": 1},
           "encoding": {"x": {"field": "t", "type": "quantitative", "scale": {"domain": [4.5, 73.8], "nice": false, "zero": false}, "axis": {"values": [6,8,10,12,14,16,18,20,22,24,26,28,30,32,34,36,38,40,42,44,46,48,50,52,54,56,58,60,62,64,66,68,70,72], "tickCount": 500, "format": "d", "labelExpr": "datum.value % 10 === 0 ? datum.label : ''", "labelOverlap": false, "tickSize": {"condition": {"test": "datum.value % 10 === 0", "value": 4}, "value": 2.5}, "title": null, "labelFontSize": 8.5, "labelFont": "Liberation Sans", "labelColor": "#555", "labelPadding": 2, "tickColor": "#555", "domainColor": "#222", "labelFlush": false}},
                        "y": {"field": "v", "type": "quantitative", "scale": {"domain": [0, 100], "nice": false}, "axis": {"values": [0,5,10,15,20,25,30,35,40,45,50,55,60,65,70,75,80,85,90,95,100], "tickCount": 500, "format": "d", "labelExpr": "datum.value % 20 === 0 ? datum.label : ''", "labelOverlap": false, "tickSize": {"condition": {"test": "datum.value % 20 === 0", "value": 4}, "value": 2.5}, "title": null, "labelFontSize": 8.5, "labelFont": "Liberation Sans", "labelColor": "#555", "labelPadding": 1, "tickColor": "#555", "domainColor": "#222"}}}},
          {"data": {"values": [{"t": 38.41, "v": 100, "label": "38.41"}]}, "mark": {"type": "text", "fontSize": 8, "font": "Liberation Sans", "color": "#555", "baseline": "bottom", "dy": -1},
           "encoding": {"x": {"field": "t", "type": "quantitative"}, "y": {"field": "v", "type": "quantitative"}, "text": {"field": "label"}}},
          {"data": {"values": [{"t": 27.2, "v": 72, "label": "3\u2018SL"}]}, "mark": {"type": "text", "fontSize": 18, "fontWeight": "bold", "align": "left", "baseline": "middle", "color": "#111"},
           "encoding": {"x": {"field": "t", "type": "quantitative"}, "y": {"field": "v", "type": "quantitative"}, "text": {"field": "label"}}}
        ]}
      ]
    }
  ]
}
